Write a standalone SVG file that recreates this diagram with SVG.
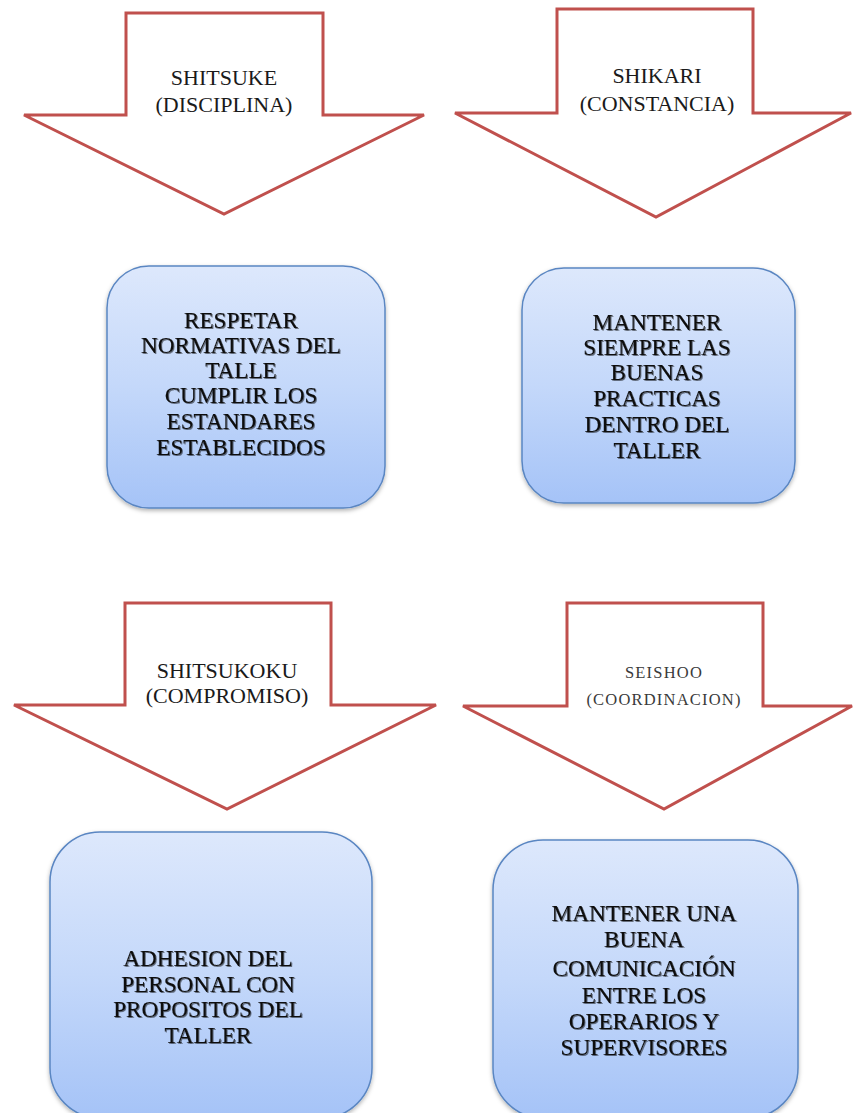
<svg xmlns="http://www.w3.org/2000/svg" width="854" height="1113" viewBox="0 0 854 1113">
  <defs>
    <linearGradient id="boxFill" x1="0" y1="0" x2="0" y2="1">
      <stop offset="0" stop-color="#dde8fc"/>
      <stop offset="0.5" stop-color="#c4d8fa"/>
      <stop offset="1" stop-color="#a5c3f7"/>
    </linearGradient>
    <filter id="boxShadow" x="-10%" y="-10%" width="120%" height="120%">
      <feDropShadow dx="0" dy="2" stdDeviation="2" flood-color="#000" flood-opacity="0.3"/>
    </filter>
    <filter id="textShadow" x="-5%" y="-5%" width="110%" height="130%">
      <feDropShadow dx="1" dy="1" stdDeviation="0.7" flood-color="#000" flood-opacity="0.5"/>
    </filter>
  </defs>
  <style>
    .arrow { fill: #ffffff; stroke: #c0504d; stroke-width: 3; stroke-linejoin: miter; }
    .box { fill: url(#boxFill); stroke: #5a86c2; stroke-width: 1.5; filter: url(#boxShadow); }
    .label { font-family: "Liberation Serif", "Times New Roman", serif; font-size: 22px; fill: #1a1a1a; text-anchor: middle; }
    .small { font-size: 16.5px; fill: #3a3a3a; letter-spacing: 1.2px; }
    .body { font-family: "Liberation Serif", "Times New Roman", serif; font-size: 23.2px; fill: #111111; stroke: #111111; stroke-width: 0.1; text-anchor: middle; filter: url(#textShadow); }
  </style>

  <rect width="854" height="1113" fill="#ffffff"/>

  <!-- block arrows -->
  <g id="arrow-shitsuke">
    <polygon class="arrow" points="126,13 323,13 323,115 424,115 224,214 24,115 126,115"/>
    <text class="label" x="224" y="85">SHITSUKE</text>
    <text class="label" x="224" y="112">(DISCIPLINA)</text>
  </g>

  <g id="arrow-shikari">
    <polygon class="arrow" points="557,9 753,9 753,113 851,113 656,217 455,113 557,113"/>
    <text class="label" x="657" y="83">SHIKARI</text>
    <text class="label" x="657" y="111">(CONSTANCIA)</text>
  </g>

  <g id="arrow-shitsukoku">
    <polygon class="arrow" points="125,603 331,603 331,705 436,705 227,809 14,705 125,705"/>
    <text class="label" x="227" y="678">SHITSUKOKU</text>
    <text class="label" x="227" y="703">(COMPROMISO)</text>
  </g>

  <g id="arrow-seishoo">
    <polygon class="arrow" points="567,603 763,603 763,706 852,706 664,809 463,706 567,706"/>
    <text class="label small" x="664" y="678">SEISHOO</text>
    <text class="label small" x="664" y="705">(COORDINACION)</text>
  </g>

  <!-- description boxes -->
  <g id="box-disciplina">
    <rect class="box" x="107" y="266" width="278" height="242" rx="42" ry="42"/>
    <text class="body" x="241" y="328">RESPETAR</text>
    <text class="body" x="241" y="353">NORMATIVAS DEL</text>
    <text class="body" x="241" y="378">TALLE</text>
    <text class="body" x="241" y="403">CUMPLIR LOS</text>
    <text class="body" x="241" y="429">ESTANDARES</text>
    <text class="body" x="241" y="455">ESTABLECIDOS</text>
  </g>

  <g id="box-constancia">
    <rect class="box" x="522" y="268" width="273" height="235" rx="42" ry="42"/>
    <text class="body" x="657" y="330">MANTENER</text>
    <text class="body" x="657" y="355">SIEMPRE LAS</text>
    <text class="body" x="657" y="380">BUENAS</text>
    <text class="body" x="657" y="406">PRACTICAS</text>
    <text class="body" x="657" y="432">DENTRO DEL</text>
    <text class="body" x="657" y="458">TALLER</text>
  </g>

  <g id="box-compromiso">
    <rect class="box" x="50" y="832" width="322" height="286" rx="50" ry="50"/>
    <text class="body" x="208" y="966">ADHESION DEL</text>
    <text class="body" x="208" y="992">PERSONAL CON</text>
    <text class="body" x="208" y="1017">PROPOSITOS DEL</text>
    <text class="body" x="208" y="1043">TALLER</text>
  </g>

  <g id="box-coordinacion">
    <rect class="box" x="493" y="840" width="305" height="278" rx="50" ry="50"/>
    <text class="body" x="644" y="921">MANTENER UNA</text>
    <text class="body" x="644" y="947">BUENA</text>
    <text class="body" x="644" y="976">COMUNICACIÓN</text>
    <text class="body" x="644" y="1003">ENTRE LOS</text>
    <text class="body" x="644" y="1029">OPERARIOS Y</text>
    <text class="body" x="644" y="1055">SUPERVISORES</text>
  </g>

  <g id="connectors"></g>
</svg>
